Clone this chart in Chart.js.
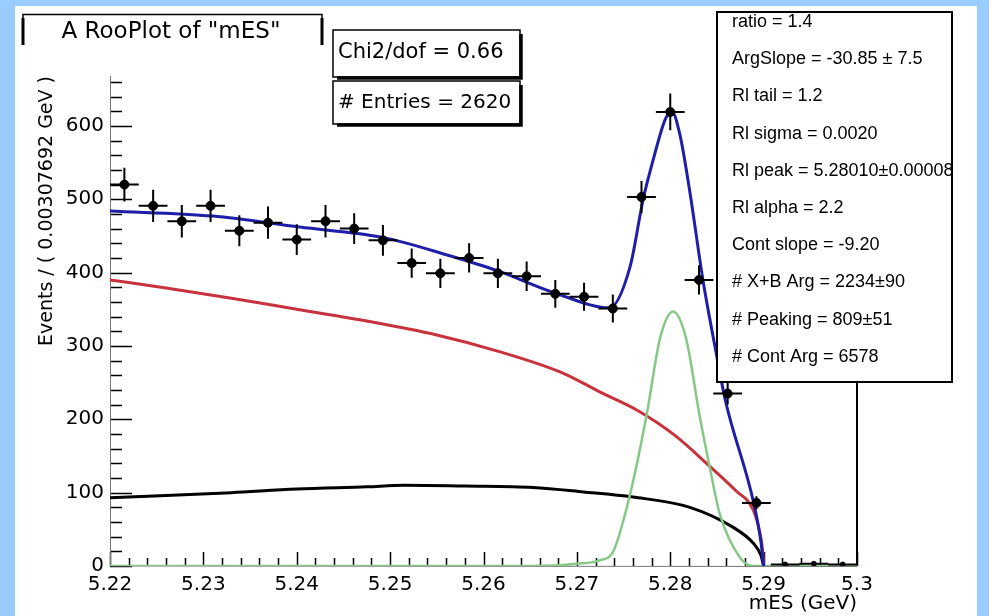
<!DOCTYPE html>
<html>
<head>
<meta charset="utf-8">
<title>A RooPlot of "mES"</title>
<script src="https://cdn.jsdelivr.net/npm/chart.js@4.4.1/dist/chart.umd.min.js"></script>
<style>
  html, body { margin: 0; padding: 0; background: #99ccff; }
  #wrap { position: absolute; left: 0; top: 0; width: 989px; height: 616px; }
</style>
</head>
<body>
<div id="wrap"><canvas id="chart_mes"></canvas></div>
<script>
// centros dos bins de mES (GeV), eventos por bin e erros
const binCenters = [5.22154, 5.22462, 5.22769, 5.23077, 5.23385, 5.23692, 5.24000, 5.24308,
  5.24615, 5.24923, 5.25231, 5.25538, 5.25846, 5.26154, 5.26462, 5.26769, 5.27077, 5.27385,
  5.27692, 5.28000, 5.28308, 5.28615, 5.28923, 5.29231, 5.29538, 5.29846];
const events = [520, 491, 470, 491, 457, 468, 445, 470, 460, 444, 413, 399, 420, 399, 395,
  371, 367, 351, 503, 619, 390, 235, 86, 2, 3, 2];
const eventErrors = [23, 22, 22, 22, 21, 22, 21, 22, 21, 21, 20, 20, 20, 20, 20,
  19, 19, 19, 22, 25, 20, 15, 9, 1.5, 2, 1.5];
const binHalfWidth = 0.00154;

// curvas do ajuste [mES, eventos]
const totalFit = [[5.2200, 484], [5.2310, 477], [5.2403, 462], [5.2492, 448], [5.2561, 424],
  [5.2614, 403], [5.2677, 372], [5.2735, 352], [5.2757, 408], [5.2771, 500], [5.2782, 555],
  [5.2795, 610], [5.2802, 619], [5.2810, 590], [5.2821, 510], [5.2835, 390], [5.2850, 285],
  [5.2859, 226], [5.2889, 88], [5.2897, 34], [5.2900, 0]];
const argusBkg = [[5.2200, 390], [5.2260, 379], [5.2330, 365], [5.2400, 350], [5.2475, 334],
  [5.2550, 315], [5.2615, 293], [5.2685, 263], [5.2725, 237], [5.2765, 212], [5.2805, 178],
  [5.2843, 135], [5.2870, 103], [5.2889, 76], [5.2896, 45], [5.2899, 20], [5.2900, 0]];
const peakingBkg = [[5.2200, 93], [5.2260, 96], [5.2330, 100], [5.2400, 105], [5.2475, 108],
  [5.2515, 110], [5.2580, 109], [5.2653, 107], [5.2707, 101], [5.2760, 94], [5.2821, 80],
  [5.2867, 53], [5.2889, 31], [5.2897, 15], [5.2900, 0]];
const signalPeak = [[5.2200, 0], [5.2650, 0], [5.2700, 3], [5.2725, 8], [5.2739, 20],
  [5.2757, 98], [5.2775, 208], [5.2789, 310], [5.2803, 347], [5.2817, 310], [5.2831, 208],
  [5.2843, 130], [5.2853, 71], [5.2875, 11], [5.2889, 0], [5.3000, 0]];

const xTickValues = [5.22, 5.23, 5.24, 5.25, 5.26, 5.27, 5.28, 5.29, 5.30];
const yTickValues = [0, 100, 200, 300, 400, 500, 600];

const plotTitle = 'A RooPlot of "mES"';
const chi2Text = 'Chi2/dof = 0.66';
const entriesText = '# Entries = 2620';
const statsLines = ['ratio = 1.4', 'ArgSlope = -30.85 ± 7.5', 'Rl tail = 1.2',
  'Rl sigma = 0.0020', 'Rl peak = 5.28010±0.00008', 'Rl alpha = 2.2', 'Cont slope = -9.20',
  '# X+B Arg = 2234±90', '# Peaking = 809±51', '# Cont Arg = 6578'];

const toXY = pts => pts.map(p => ({ x: p[0], y: p[1] }));

function curve(label, pts, color, width) {
  return {
    type: 'line',
    label: label,
    data: toXY(pts),
    borderColor: color,
    borderWidth: width,
    pointRadius: 0,
    fill: false,
    cubicInterpolationMode: 'monotone',
  };
}

// fundo azul e tela branca
const canvasBg = {
  id: 'canvasBg',
  beforeDraw(chart) {
    const ctx = chart.ctx;
    ctx.save();
    ctx.fillStyle = '#99ccff';
    ctx.fillRect(0, 0, chart.width, chart.height);
    ctx.fillStyle = '#ffffff';
    ctx.fillRect(15, 6, 962, 610);
    ctx.restore();
  }
};

// marcas dos eixos para dentro, como no ROOT
const rootAxes = {
  id: 'rootAxes',
  beforeDatasetsDraw(chart) {
    const { ctx, chartArea: a, scales: { x, y } } = chart;
    ctx.save();
    ctx.strokeStyle = '#000';
    ctx.lineWidth = 1.5;
    ctx.beginPath();
    for (let v = 0; v <= y.max + 0.1; v += 20) {
      const py = Math.round(y.getPixelForValue(v)) + 0.5;
      const len = (v % 100 === 0) ? 22 : 12;
      ctx.moveTo(a.left, py); ctx.lineTo(a.left + len, py);
    }
    for (let k = 0; k <= 40; k++) {
      const v = 5.22 + k * 0.002;
      const px = Math.round(x.getPixelForValue(v)) + 0.5;
      const len = (k % 5 === 0) ? 14 : 8;
      ctx.moveTo(px, a.bottom); ctx.lineTo(px, a.bottom - len);
    }
    ctx.stroke();
    ctx.lineWidth = 1;
    ctx.strokeStyle = '#777';
    ctx.beginPath();
    ctx.moveTo(a.left + 0.5, a.top); ctx.lineTo(a.left + 0.5, a.bottom);
    ctx.lineTo(a.right, a.bottom + 0.5);
    ctx.stroke();
    ctx.strokeStyle = '#000';
    ctx.lineWidth = 2;
    ctx.beginPath();
    ctx.moveTo(a.right, a.top); ctx.lineTo(a.right, a.bottom);
    ctx.stroke();
    ctx.restore();
  }
};

// barras de erro dos pontos
const errorBars = {
  id: 'errorBars',
  afterDatasetsDraw(chart) {
    const { ctx, scales: { x, y } } = chart;
    ctx.save();
    ctx.strokeStyle = '#000';
    ctx.lineWidth = 2;
    ctx.beginPath();
    binCenters.forEach((c, i) => {
      const px = x.getPixelForValue(c);
      const py = y.getPixelForValue(events[i]);
      ctx.moveTo(x.getPixelForValue(c - binHalfWidth), py);
      ctx.lineTo(x.getPixelForValue(c + binHalfWidth), py);
      ctx.moveTo(px, y.getPixelForValue(events[i] - eventErrors[i]));
      ctx.lineTo(px, y.getPixelForValue(events[i] + eventErrors[i]));
    });
    ctx.stroke();
    ctx.restore();
  }
};

function pave(ctx, x0, y0, x1, y1) {
  ctx.fillStyle = '#fff';
  ctx.fillRect(x0, y0, x1 - x0, y1 - y0);
  ctx.strokeStyle = '#000';
  ctx.lineWidth = 1.5;
  ctx.strokeRect(x0, y0, x1 - x0, y1 - y0);
  ctx.lineWidth = 3.5;
  ctx.beginPath();
  ctx.moveTo(x1 + 1, y0 + 4); ctx.lineTo(x1 + 1, y1 + 1); ctx.lineTo(x0 + 4, y1 + 1);
  ctx.stroke();
}

// título, caixas de chi2 e de parâmetros
const rootBoxes = {
  id: 'rootBoxes',
  afterDraw(chart) {
    const ctx = chart.ctx;
    ctx.save();
    // título
    ctx.fillStyle = '#fff';
    ctx.fillRect(22, 14, 300, 32);
    ctx.strokeStyle = '#000';
    ctx.lineWidth = 1.5;
    ctx.beginPath();
    ctx.moveTo(23, 45); ctx.lineTo(23, 14.5); ctx.lineTo(322, 14.5); ctx.lineTo(322, 45);
    ctx.stroke();
    ctx.lineWidth = 3;
    ctx.beginPath();
    ctx.moveTo(23, 18); ctx.lineTo(23, 45);
    ctx.moveTo(322, 18); ctx.lineTo(322, 45);
    ctx.stroke();
    ctx.fillStyle = '#000';
    ctx.textBaseline = 'middle';
    ctx.textAlign = 'center';
    ctx.font = '23px "DejaVu Sans"';
    ctx.fillText(plotTitle, 171, 32);

    pave(ctx, 333, 30, 520, 77);
    pave(ctx, 333, 81, 520, 124);
    ctx.fillStyle = '#000';
    ctx.textAlign = 'left';
    ctx.font = '21px "DejaVu Sans"';
    ctx.fillText(chi2Text, 338, 53);
    ctx.font = '20px "DejaVu Sans"';
    ctx.fillText(entriesText, 338, 103);

    // caixa de parâmetros
    ctx.fillStyle = '#fff';
    ctx.fillRect(717, 12, 235, 370);
    ctx.strokeStyle = '#000';
    ctx.lineWidth = 2;
    ctx.strokeRect(717, 12, 235, 370);
    ctx.fillStyle = '#000';
    ctx.font = '18px "Liberation Sans"';
    statsLines.forEach((t, i) => ctx.fillText(t, 732, 22 + i * 37.2));
    ctx.restore();
  }
};

new Chart(document.getElementById('chart_mes'), {
  type: 'scatter',
  data: {
    datasets: [
      {
        type: 'scatter',
        label: 'data',
        data: binCenters.map((c, i) => ({ x: c, y: events[i] })),
        backgroundColor: '#000',
        borderColor: '#000',
        pointRadius: ctx => (events[ctx.dataIndex] < 10 ? 2.5 : 4.5),
      },
      curve('total', totalFit, '#1e1ea8', 3),
      curve('signal', signalPeak, '#86c886', 2.5),
      curve('argus', argusBkg, '#c8323c', 3),
      curve('peaking', peakingBkg, '#000000', 3),
    ],
  },
  options: {
    responsive: true,
    maintainAspectRatio: false,
    animation: false,
    layout: { padding: { left: 36, top: 76, right: 132, bottom: 0 } },
    plugins: { legend: { display: false }, tooltip: { enabled: false } },
    scales: {
      x: {
        type: 'linear',
        min: 5.22,
        max: 5.30,
        afterBuildTicks: s => { s.ticks = xTickValues.map(v => ({ value: v })); },
        afterFit: s => { s.height = 50; },
        grid: { display: false, drawTicks: false },
        border: { display: false },
        ticks: {
          padding: 7,
          color: '#000',
          font: { family: 'DejaVu Sans', size: 20 },
          maxRotation: 0,
          callback: v => String(parseFloat(v.toFixed(2))),
        },
        title: {
          display: true,
          text: 'mES (GeV)',
          align: 'end',
          color: '#000',
          font: { family: 'DejaVu Sans', size: 20 },
          padding: { top: 0, bottom: 0 },
        },
      },
      y: {
        min: 0,
        max: 668,
        afterBuildTicks: s => { s.ticks = yTickValues.map(v => ({ value: v })); },
        afterFit: s => { s.width = 74; },
        grid: { display: false, drawTicks: false },
        border: { display: false },
        ticks: {
          padding: 6,
          color: '#000',
          font: { family: 'DejaVu Sans', size: 20 },
        },
        title: {
          display: true,
          text: 'Events / ( 0.00307692 GeV )',
          align: 'end',
          color: '#000',
          font: { family: 'DejaVu Sans', size: 19 },
          padding: { top: 0, bottom: 0 },
        },
      },
    },
  },
  plugins: [canvasBg, rootAxes, errorBars, rootBoxes],
});
</script>
</body>
</html>
